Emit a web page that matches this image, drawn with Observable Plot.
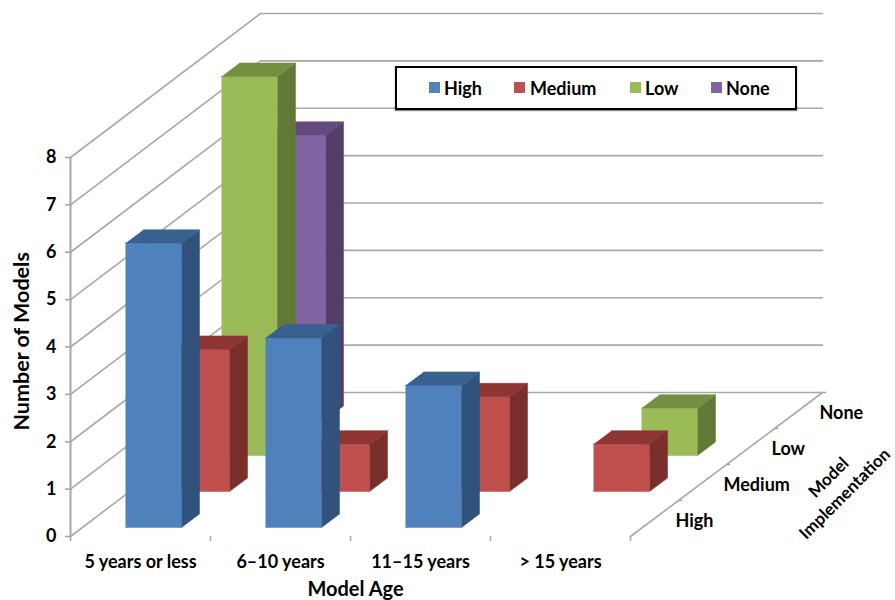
<!DOCTYPE html>
<html><head><meta charset="utf-8">
<script src="https://cdn.jsdelivr.net/npm/d3@7"></script>
<script src="https://cdn.jsdelivr.net/npm/@observablehq/plot@0.6"></script>
<style>
html,body{margin:0;padding:0;background:#fff}
#wrap{position:relative;width:895px;height:600px;overflow:hidden}
#legend{position:absolute;left:395px;top:66px;width:398px;height:40px;border:2px solid #000;background:#fff;box-shadow:0 1px 1px #888;font:700 18px Lato,sans-serif;color:#000}
#legend span{position:absolute;top:10px;line-height:20px}
#legend i{position:absolute;top:14px;width:11px;height:11px}
</style></head><body><div id="wrap"></div>
<script>
const categories = ["5 years or less", "6–10 years", "11–15 years", "> 15 years"];
const implementation = ["High", "Medium", "Low", "None"];
const high = [6, 4, 3, 0];
const medium = [3, 1, 2, 1];
const low = [8, 0, 0, 1];
const none = [6, 0, 0, 0];
const valueTicks = [0, 1, 2, 3, 4, 5, 6, 7, 8];
const faceColors = {
  High: ["#4f81bd", "#30527d", "#386190"],
  Medium: ["#c0504d", "#7b2f2d", "#8f3533"],
  Low: ["#9bbb59", "#627836", "#758f40"],
  None: ["#8064a2", "#523e69", "#63497f"]
};
const series = {High: high, Medium: medium, Low: low, None: none};
const legendX = {High: [34, 49], Medium: [119, 135], Low: [235, 250], None: [316, 331]};

// oblique projection: category units and value units plus a share per depth row
const catPx = 140, valPx = 47.375, rowDX = 48 / catPx, rowDY = 36 / valPx;
const px = (c, d) => c + d * rowDX;
const py = (v, d) => v + d * rowDY;
const nRows = implementation.length, nCats = categories.length;

// wall and floor lines
const wall = [];
valueTicks.forEach(v => {
  [[0, 0], [-2 / catPx, nRows], [nCats, nRows]].forEach(([c, d]) =>
    wall.push({id: "g" + v, x: px(c, d), y: py(v, d)}));
});
[[nCats, 0], [nCats, nRows]].forEach(([c, d]) => wall.push({id: "edge", x: px(c, d), y: py(0, d)}));

// depth tick marks on the floor's right edge
const depthTicks = d3.range(1, nRows + 1).map(d => ({x1: px(nCats, d), x2: px(nCats, d) + 0.03, y: py(0, d)}));

// bars: painter's order, back row first
const barW = 0.4, barGap = 43 / catPx, rowStart = 0.25, rowDepth = 0.375;
const faces = [];
[...implementation].reverse().forEach(name => {
  const r = implementation.indexOf(name);
  series[name].forEach((v, c) => {
    if (!v) return;
    const x0 = c + barGap, x1 = x0 + barW, d0 = r + rowStart, d1 = d0 + rowDepth;
    const poly = (k, pts) => pts.forEach(([cx, val, d]) =>
      faces.push({id: `${name}${c}${k}`, x: px(cx, d), y: py(val, d), color: faceColors[name][k]}));
    poly(0, [[x0, 0, d0], [x1, 0, d0], [x1, v, d0], [x0, v, d0]]);
    poly(1, [[x1, 0, d0], [x1, 0, d1], [x1, v, d1], [x1, v, d0]]);
    poly(2, [[x0, v, d0], [x1, v, d0], [x1, v, d1], [x0, v, d1]]);
  });
});

const grey = "#a8a8a8";
const chart = Plot.plot({
  width: 895, height: 600,
  marginLeft: 70, marginRight: 0, marginTop: 0, marginBottom: 64,
  x: {domain: [0, 825 / catPx], axis: null},
  y: {domain: [0, 536 / valPx], axis: null},
  color: {type: "identity"},
  style: {fontFamily: "Lato, sans-serif", fontSize: "18px", fontWeight: 700, color: "#000", background: "#fff", overflow: "visible"},
  marks: [
    Plot.line(wall, {x: "x", y: "y", z: "id", stroke: grey, strokeWidth: 1.6, curve: "linear"}),
    Plot.ruleX([0], {y1: 0, y2: 8, stroke: grey, strokeWidth: 2}),
    Plot.ruleY(depthTicks, {x1: "x1", x2: "x2", y: "y", stroke: grey, strokeWidth: 1.6}),
    Plot.axisX({ticks: d3.range(0, nCats + 1), tickSize: 5, tickFormat: () => "", stroke: grey, label: null, strokeWidth: 1.6}),
    Plot.axisY({ticks: valueTicks, tickSize: 5, tickPadding: 9, stroke: grey, fill: "#000", label: null, strokeWidth: 1.6}),
    Plot.line(faces, {x: "x", y: "y", z: "id", fill: "color", stroke: "color", strokeWidth: 0.5, curve: "linear"}),
    Plot.text(categories, {x: (d, i) => i + 0.5, y: 0, dy: 26, text: d => d}),
    Plot.text(implementation, {x: (d, i) => px(nCats, i + 0.5), y: (d, i) => py(0, i + 0.5), text: d => d, textAnchor: "start", dx: 21, dy: 3}),
    Plot.text(["Number of Models"], {x: 0, y: 4.12, dx: -48, rotate: -90, fontSize: 21.5, text: d => d}),
    Plot.text(["Model Age"], {x: 285 / catPx, y: 0, dy: 53, fontSize: 20, text: d => d}),
    Plot.text(["Model\nImplementation"], {x: 765 / catPx, y: 52 / valPx, rotate: -45, fontSize: 17, lineHeight: 1.35, text: d => d})
  ]
});
const wrap = document.getElementById("wrap");
wrap.appendChild(chart);
const legend = document.createElement("div");
legend.id = "legend";
implementation.forEach(name => {
  const i = document.createElement("i");
  i.style.left = legendX[name][0] - 2 + "px";
  i.style.background = faceColors[name][0];
  const s = document.createElement("span");
  s.style.left = legendX[name][1] - 2 + "px";
  s.textContent = name;
  legend.append(i, s);
});
wrap.appendChild(legend);
</script></body></html>
